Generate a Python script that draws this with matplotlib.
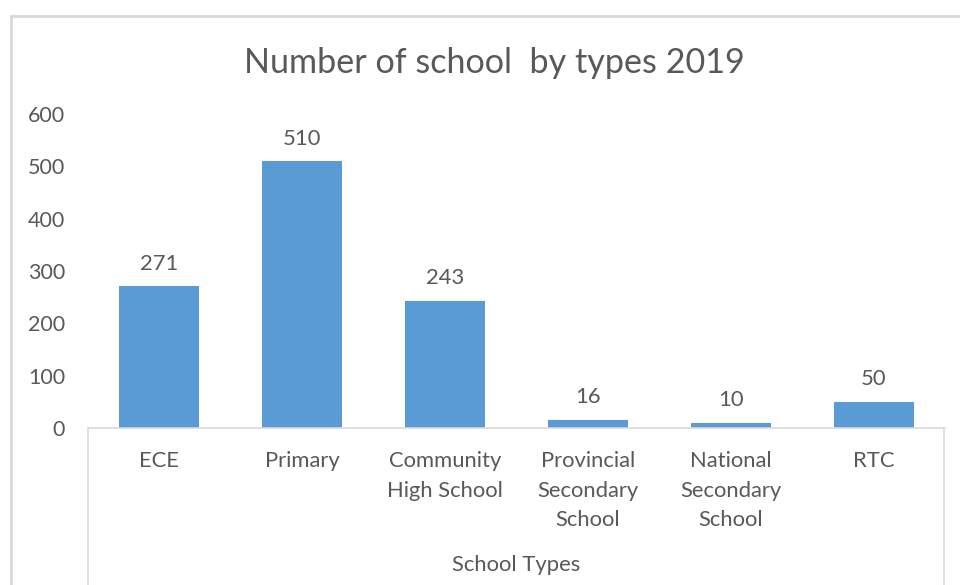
import matplotlib
matplotlib.use("Agg")
import matplotlib.pyplot as plt
from matplotlib.lines import Line2D

categories = ["ECE", "Primary", "Community\nHigh School", "Provincial\nSecondary\nSchool",
              "National\nSecondary\nSchool", "RTC"]
values = [271, 510, 243, 16, 10, 50]
yticks = [0, 100, 200, 300, 400, 500, 600]
title = "Number of school  by types 2019"
xlabel = "School Types"

W, H = 960, 585
plt.rcParams['font.family'] = ['Lato', 'DejaVu Sans']
txt = '#595959'
grid = '#d9d9d9'
fs = 15.8

fig = plt.figure(figsize=(W/100, H/100), dpi=100)
def fx(x): return x / W
def fy(y): return 1 - y / H

ax = fig.add_axes([fx(88), fy(428), fx(945) - fx(88), fy(114) - fy(428)])
x = list(range(len(categories)))
bars = ax.bar(x, values, width=0.56, color='#5b9bd5', zorder=2)
ax.set_xlim(-0.5, len(categories) - 0.5)
ax.set_ylim(0, 600)
ax.set_yticks(yticks)
ax.set_yticklabels([str(t) for t in yticks], fontsize=15.5, color=txt)
ax.tick_params(axis='y', length=0, pad=16.5)
ax.set_xticks(x)
ax.set_xticklabels(categories, fontsize=fs, color=txt, linespacing=1.6, va='top')
ax.tick_params(axis='x', length=0, pad=16.5)
for s in ['top', 'right', 'left']:
    ax.spines[s].set_visible(False)
ax.spines['bottom'].set_color(grid)
ax.spines['bottom'].set_linewidth(1.2)

for b, v in zip(bars, values):
    ax.annotate(str(v), (b.get_x() + b.get_width()/2, v), xytext=(0, 9),
                textcoords='offset points', ha='center', va='bottom',
                fontsize=fs, color=txt)

fig.text(fx(494), fy(63), title, ha='center', va='center', fontsize=24.6, color=txt)
fig.text(fx(516), fy(565), xlabel, ha='center', va='center', fontsize=fs, color=txt)

# chart border (top and left edges)
fig.add_artist(Line2D([fx(11), 1.0], [fy(16), fy(16)], color=grid, lw=2))
fig.add_artist(Line2D([fx(11), fx(11)], [fy(16), 0.0], color=grid, lw=2))
# category box
fig.add_artist(Line2D([fx(88), fx(88)], [fy(428), 0.0], color=grid, lw=1.2))
fig.add_artist(Line2D([fx(944), fx(944)], [fy(428), 0.0], color=grid, lw=1.2))

fig.savefig("out.png", dpi=100)
